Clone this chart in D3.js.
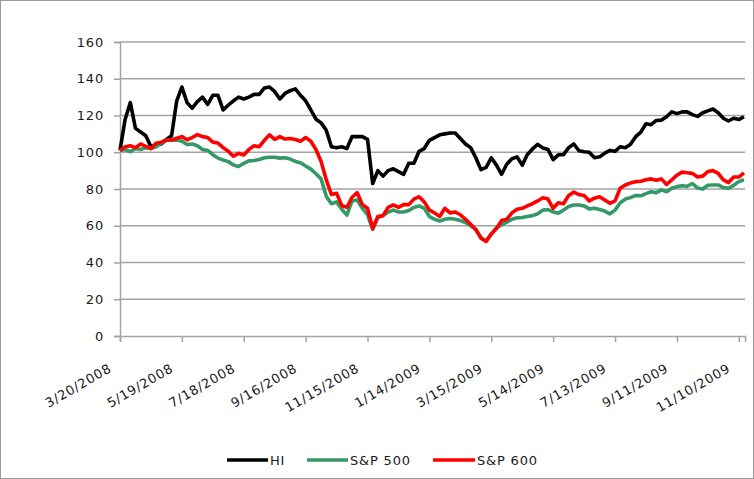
<!DOCTYPE html>
<html>
<head>
<meta charset="utf-8">
<script src="https://cdn.jsdelivr.net/npm/d3@7"></script>
<style>
  html, body { margin: 0; padding: 0; background: #fff; }
  svg { display: block; }
  text { font-family: "DejaVu Sans", sans-serif; fill: #1a1a1a; }
</style>
</head>
<body>
<svg id="chart" width="754" height="479"></svg>
<script>
// ---- data (index levels, sampled every 5 calendar days from 3/20/2008) ----
const startDate = "2008-03-20";
const endDate = "2009-11-16";
const stepDays = 5;
const seriesNames = ["HI", "S&P 500", "S&P 600"];
const seriesColors = ["#000000", "#339966", "#ff0000"];

const hiValues = [
  101, 118, 127, 113, 111, 109, 103, 104, 104.5, 107,
  109, 128, 135.5, 127, 124, 127.5, 130, 126, 131, 131,
  123, 125.7, 128, 130, 129, 130, 131.5, 131.5, 135, 135.5,
  133, 129, 132, 133.5, 134.5, 131, 128, 123, 118, 116,
  112, 103, 102.5, 103, 102, 108.5, 108.5, 108.5, 107, 83,
  90, 87, 90, 91, 89.5, 88, 94, 94, 100.5, 102,
  106.5, 108, 109.5, 110, 110.5, 110.5, 107.5, 104.5, 102.5, 97,
  90.5, 91.8, 97, 93, 88, 93.5, 96.5, 97.5, 93, 98.8,
  101.8, 104.3, 102.3, 101.5, 96, 98.6, 98.7, 102.5, 104.5, 100.8,
  100.3, 100, 97, 97.5, 99.5, 101, 100.5, 103, 102.5, 104.3,
  108.5, 111, 115.5, 115, 117.3, 117.5, 119.3, 122, 121, 122,
  122, 120.5, 119.5, 121.5, 122.5, 123.5, 121.5, 118.5, 117, 118.5,
  117.8, 119.3
];

const sp500Values = [
  101, 101.5, 100.3, 102, 101.5, 102.5, 102, 103, 105, 106.5,
  106.5, 106.7, 106, 104.2, 104.5, 103.5, 101.5, 101, 98.7, 96.8,
  95.8, 94.9, 93.1, 92.2, 94, 95.3, 95.5, 96, 97, 97.3,
  97.3, 96.8, 97, 96.3, 95, 94.3, 92.5, 90.8, 88.3, 85.5,
  76, 72, 73, 69, 65.8, 73.5, 74, 69.5, 66, 58,
  64.5, 65.5, 67.5, 68.5, 67.5, 67.5, 68.3, 70, 70.8, 69.5,
  65, 63.5, 62.5, 63.5, 64, 63.5, 62.8, 61.8, 60, 58,
  53.5, 51.7, 55.5, 58.8, 60.5, 62, 63.5, 64.3, 64.5, 65,
  65.5, 66.5, 68.5, 68.8, 67.5, 66.8, 68.5, 70.5, 71.3, 71.3,
  70.8, 69.2, 69.5, 68.8, 68, 66.5, 68.5, 72.5, 74.5, 75.3,
  76.5, 76.3, 77.5, 78.5, 78, 79.5, 78.5, 80.4, 81.3, 81.8,
  81.5, 83, 80.5, 80, 82, 82.2, 82.2, 80.8, 80.4, 82,
  84, 85
];

const sp600Values = [
  101, 103, 103.5, 102.5, 104.5, 103.2, 102, 104.9, 105.5, 106.7,
  106.7, 107.6, 108.5, 106.8, 108, 109.6, 108.5, 108, 105.5, 105,
  102.5, 100.5, 97.8, 99.4, 98.5, 101.5, 103.5, 103, 106.5, 109.5,
  107, 108.5, 107.2, 107.5, 106.9, 106, 108, 106, 101.5, 95,
  85, 77, 77.7, 71, 70, 75.5, 78, 71.5, 69.5, 58.5,
  65, 65.5, 70, 71.3, 70, 71.5, 71.5, 74.5, 75.8, 73,
  68.5, 67, 65, 69.5, 67, 67.5, 66, 63.5, 60.8, 58,
  53.2, 51.5, 55.5, 58.5, 62.8, 63.5, 67, 69, 69.5, 70.8,
  72, 73.5, 75.2, 74.5, 69.5, 72.5, 72, 76.5, 78.3, 77,
  76.5, 73.5, 75, 75.8, 74, 72.2, 73.5, 80.4, 82.2, 83.3,
  84, 84.2, 85, 85.5, 84.8, 85.5, 82.5, 85, 87.5, 89.2,
  88.8, 88.5, 86.5, 87, 89.5, 90, 88.5, 85, 83.5, 86.5,
  86.5, 88.8
];

const yTickValues = [0, 20, 40, 60, 80, 100, 120, 140, 160];
const xTickStepDays = 60;
const xTickCount = 11;

// ---- build ----
const parse = d3.timeParse("%Y-%m-%d");
const start = parse(startDate);
const end = parse(endDate);
const dates = hiValues.map((_, i) => d3.timeDay.offset(start, i * stepDays));
const allSeries = [hiValues, sp500Values, sp600Values].map((vals, s) => ({
  name: seriesNames[s],
  color: seriesColors[s],
  points: vals.map((v, i) => ({ date: dates[i], value: v }))
}));
const xTicks = d3.range(xTickCount).map(i => d3.timeDay.offset(start, i * xTickStepDays));

const svg = d3.select("#chart");
const plot = { left: 120, right: 745, top: 42, bottom: 336 };

const x = d3.scaleTime().domain([start, end]).range([plot.left, plot.right]);
const y = d3.scaleLinear().domain([0, 160]).range([plot.bottom, plot.top]);

// outer chart frame
svg.append("rect")
  .attr("x", 0.5).attr("y", 0.5).attr("width", 753).attr("height", 478)
  .attr("fill", "#fff").attr("stroke", "#9a9a9a").attr("stroke-width", 1);

const gridColor = "#a3a3a3";

// gridlines
svg.append("g").selectAll("line")
  .data(yTickValues.filter(v => v > 0))
  .join("line")
  .attr("x1", plot.left).attr("x2", plot.right)
  .attr("y1", d => y(d)).attr("y2", d => y(d))
  .attr("stroke", gridColor).attr("stroke-width", 1.5);

// y axis
const yAxis = svg.append("g")
  .attr("transform", `translate(${plot.left},0)`)
  .call(d3.axisLeft(y).tickValues(yTickValues).tickSize(6).tickPadding(10).tickFormat(d3.format("d")));
yAxis.select(".domain").attr("stroke", gridColor).attr("stroke-width", 1.5);
yAxis.selectAll(".tick line").attr("stroke", gridColor).attr("stroke-width", 1.5);
yAxis.selectAll(".tick text")
  .attr("font-size", 13).attr("letter-spacing", "0.8px")
  .attr("font-family", "DejaVu Sans").attr("fill", "#1a1a1a");

// x axis
const xAxis = svg.append("g")
  .attr("transform", `translate(0,${plot.bottom})`)
  .call(d3.axisBottom(x).tickValues(xTicks).tickSize(6).tickFormat(d3.timeFormat("%-m/%-d/%Y")));
xAxis.select(".domain").attr("stroke", gridColor).attr("stroke-width", 1.5);
xAxis.selectAll(".tick line").attr("stroke", gridColor).attr("stroke-width", 1.5);
xAxis.selectAll(".tick text")
  .attr("font-size", 13).attr("letter-spacing", "0.8px")
  .attr("font-family", "DejaVu Sans").attr("fill", "#1a1a1a")
  .attr("text-anchor", "end")
  .attr("dy", null)
  .attr("y", null)
  .attr("transform", "translate(-8,35) rotate(-30)");

// series lines
const line = d3.line().x(d => x(d.date)).y(d => y(d.value));
svg.append("g").selectAll("path")
  .data(allSeries)
  .join("path")
  .attr("d", d => line(d.points))
  .attr("fill", "none")
  .attr("stroke", d => d.color)
  .attr("stroke-width", 3.6)
  .attr("stroke-linejoin", "round")
  .attr("stroke-linecap", "butt");

// legend
const legendItems = [
  { x1: 227, x2: 268, tx: 270 },
  { x1: 307, x2: 348, tx: 350 },
  { x1: 433, x2: 475, tx: 477 }
];
const legendY = 460;
const lg = svg.append("g").selectAll("g")
  .data(allSeries)
  .join("g");
lg.append("line")
  .attr("x1", (d, i) => legendItems[i].x1).attr("x2", (d, i) => legendItems[i].x2)
  .attr("y1", legendY).attr("y2", legendY)
  .attr("stroke", d => d.color).attr("stroke-width", 3.5);
lg.append("text")
  .attr("x", (d, i) => legendItems[i].tx).attr("y", legendY)
  .attr("dominant-baseline", "central")
  .attr("font-size", 13).attr("letter-spacing", "0.8px")
  .text(d => d.name);
</script>
</body>
</html>
